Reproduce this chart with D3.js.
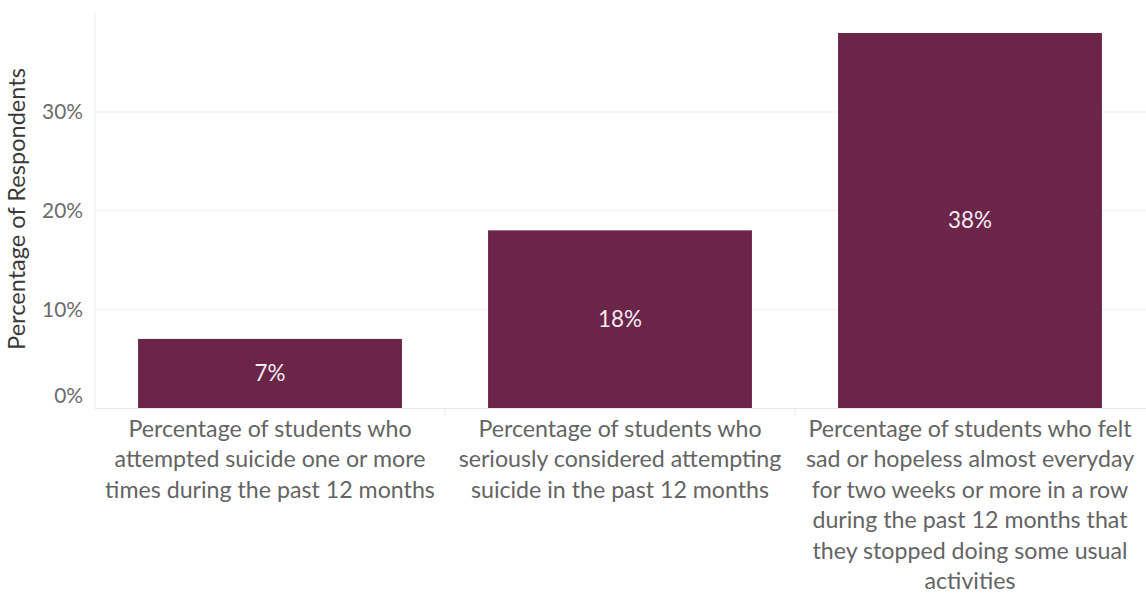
<!DOCTYPE html>
<html><head><meta charset="utf-8">
<script src="https://cdn.jsdelivr.net/npm/d3@7"></script>
<style>body{margin:0;background:#fff}svg{display:block}</style>
</head><body>
<svg id="c" width="1146" height="593"></svg>
<script>
const categories = [
  ["Percentage of students who","attempted suicide one or more","times during the past 12 months"],
  ["Percentage of students who","seriously considered attempting","suicide in the past 12 months"],
  ["Percentage of students who felt","sad or hopeless almost everyday","for two weeks or more in a row","during the past 12 months that","they stopped doing some usual","activities"]
];
const values = [7, 18, 38];
const labels = ["7%", "18%", "38%"];
const yTicks = [0, 10, 20, 30];
const yTitle = "Percentage of Respondents";

const svg = d3.select("#c");
const font = "Lato, 'Open Sans', sans-serif";
const x0 = 95, x1 = 1145, yBase = 408, yTop = 33;
const x = d3.scaleBand().domain(d3.range(values.length)).range([x0, x1]).paddingInner(0.246).paddingOuter(0.123);
const y = d3.scaleLinear().domain([0, 38]).range([yBase, yTop]);

// measure helper: font size giving a target width
function fitSize(str, target) {
  const t = svg.append("text").attr("font-family", font).attr("font-size", 100).text(str);
  const w = t.node().getComputedTextLength();
  t.remove();
  return 100 * target / w;
}
const catSize = fitSize("Percentage of students who felt", 323);
const tickSize = fitSize("30%", 41);
const barSize = fitSize("38%", 44);
const titleSize = fitSize(yTitle, 282);

// gridlines
svg.append("g").selectAll("line").data(yTicks.filter(d => d > 0)).join("line")
  .attr("x1", x0).attr("x2", 1146).attr("y1", d => y(d)).attr("y2", d => y(d))
  .attr("stroke", "#efefef").attr("stroke-width", 1);

// axis lines
svg.append("line").attr("x1", x0).attr("x2", x0).attr("y1", 12).attr("y2", yBase).attr("stroke", "#eeeeee");
svg.append("line").attr("x1", x0).attr("x2", 1146).attr("y1", yBase + 0.5).attr("y2", yBase + 0.5).attr("stroke", "#e6e6e6");
const bw = x.step();
svg.append("g").selectAll("line").data([1, 2]).join("line")
  .attr("x1", d => x0 + d * bw).attr("x2", d => x0 + d * bw)
  .attr("y1", yBase).attr("y2", yBase + 8).attr("stroke", "#ececec");

// y axis
const yAxis = d3.axisLeft(y).tickValues(yTicks).tickFormat(d => d + "%").tickSize(0).tickPadding(12);
const ga = svg.append("g").attr("transform", `translate(${x0},0)`).call(yAxis);
ga.select(".domain").remove();
ga.selectAll("text").attr("font-family", font).attr("font-size", tickSize).attr("fill", "#6b6b6b");
ga.selectAll(".tick").filter(d => d === 0).select("text").attr("dy", "-0.25em");

// y title
svg.append("text").attr("transform", "translate(25,209) rotate(-90)")
  .attr("text-anchor", "middle").attr("font-family", font).attr("font-size", titleSize)
  .attr("fill", "#3a3a3a").text(yTitle);

// bars
svg.append("g").selectAll("rect").data(values).join("rect")
  .attr("x", (d, i) => x(i)).attr("width", x.bandwidth())
  .attr("y", d => y(d)).attr("height", d => yBase - y(d))
  .attr("fill", "#6a2549");

// bar labels
svg.append("g").selectAll("text").data(values).join("text")
  .attr("x", (d, i) => x(i) + x.bandwidth() / 2)
  .attr("y", d => (y(d) + yBase) / 2).attr("dy", "0.35em")
  .attr("text-anchor", "middle").attr("font-family", font).attr("font-size", barSize)
  .attr("fill", "#f3eaf0").text((d, i) => labels[i]);

// category labels
const cg = svg.append("g");
categories.forEach((lines, i) => {
  const t = cg.append("text").attr("text-anchor", "middle").attr("font-family", font)
    .attr("font-size", catSize).attr("fill", "#646464");
  lines.forEach((ln, j) => {
    t.append("tspan").attr("x", x0 + bw * i + bw / 2).attr("y", 437 + j * 30.4).text(ln);
  });
});
</script>
</body></html>
